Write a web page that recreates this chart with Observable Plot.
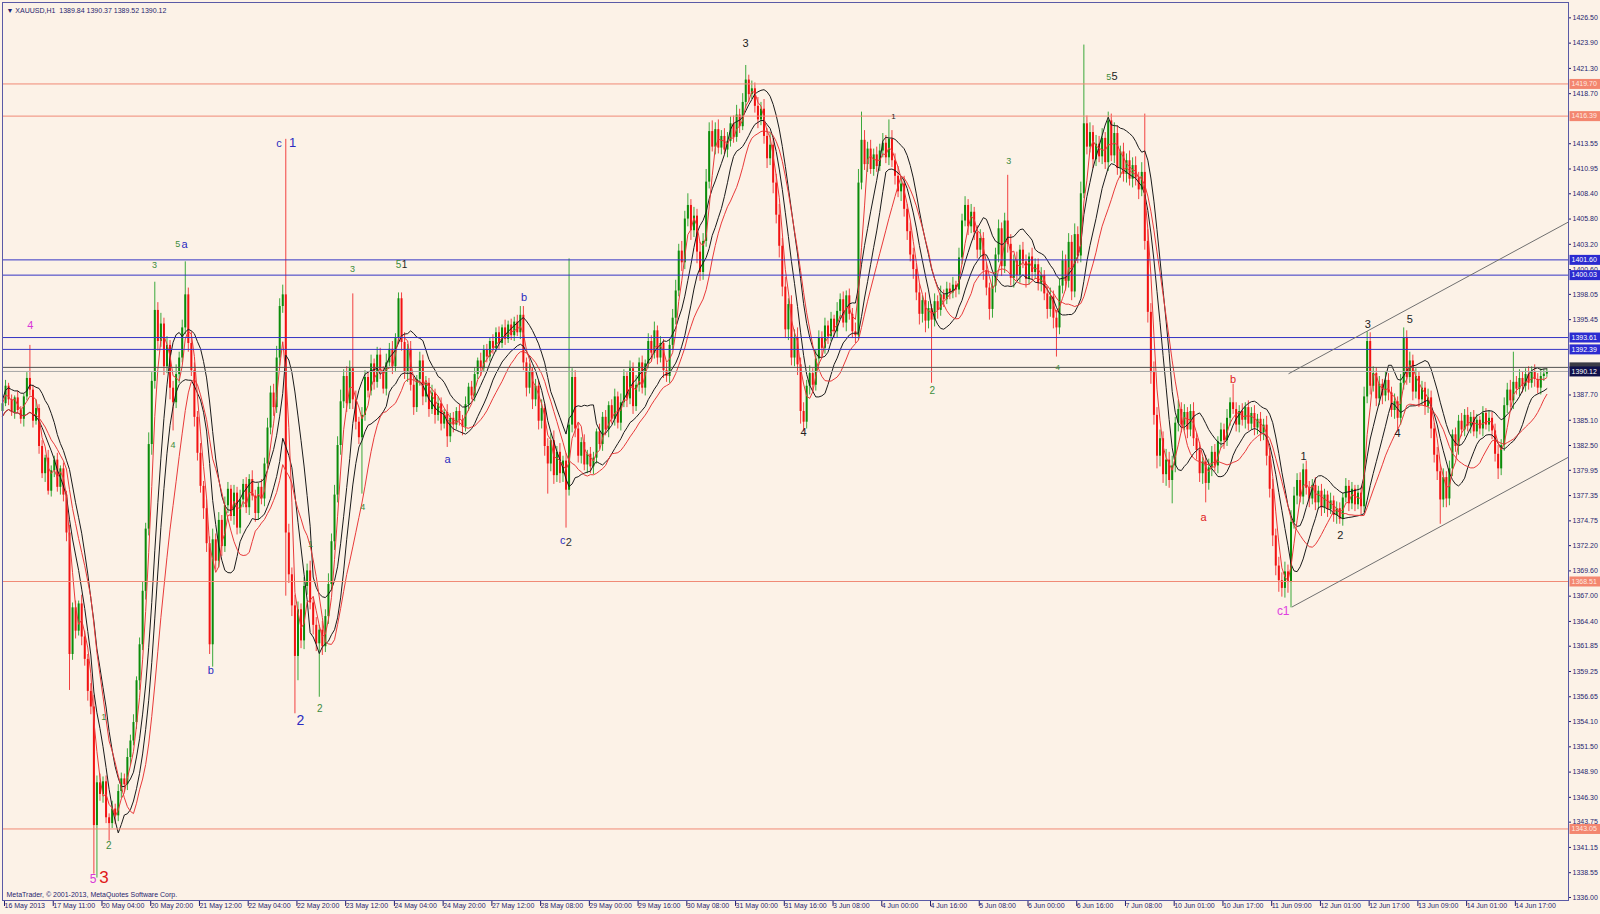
<!DOCTYPE html>
<html><head><meta charset="utf-8">
<script src="https://cdn.jsdelivr.net/npm/d3@7"></script>
<script src="https://cdn.jsdelivr.net/npm/@observablehq/plot@0.6"></script>
<style>
html,body{margin:0;padding:0;background:#fcf2e7;}
#chart svg{display:block;}
</style></head><body><div id="chart"></div>
<script>
// ---- DATA ----
const firstOpen = 1386.0;
const closes = [
1386.8,1388.6,1387.2,1385.9,1387.4,1386.1,1385.2,1387.5,1389.4,1388.2,
1385.0,1386.3,1382.4,1379.6,1381.2,1377.8,1379.9,1381.0,1378.2,1380.1,
1377.4,1373.5,1361.0,1365.8,1363.4,1366.2,1362.8,1360.5,1357.2,1355.6,
1343.4,1347.8,1346.6,1347.9,1344.2,1343.6,1345.1,1344.4,1346.9,1348.2,
1347.6,1350.4,1352.1,1354.0,1358.3,1362.0,1367.5,1373.9,1382.6,1389.1,
1396.4,1393.2,1395.0,1390.6,1392.8,1388.4,1386.9,1389.8,1391.5,1394.6,
1398.0,1393.0,1390.2,1385.4,1381.7,1378.3,1376.0,1372.4,1362.0,1372.8,
1370.6,1374.8,1372.1,1376.3,1378.0,1375.2,1377.6,1374.0,1376.9,1378.5,
1376.1,1379.0,1377.3,1375.5,1378.2,1377.0,1380.6,1384.3,1387.9,1386.4,
1391.5,1396.8,1398.0,1373.5,1369.2,1366.0,1360.8,1365.6,1362.4,1368.0,
1369.6,1366.3,1364.0,1362.1,1363.5,1361.8,1364.9,1368.2,1372.6,1377.4,
1382.5,1387.0,1389.6,1386.8,1390.4,1387.2,1384.9,1383.3,1385.6,1389.5,
1388.1,1390.9,1389.0,1391.8,1390.2,1388.3,1391.0,1392.4,1390.6,1393.5,
1397.6,1393.1,1390.0,1392.4,1388.7,1386.4,1389.3,1391.2,1387.5,1388.9,
1386.2,1387.9,1385.6,1386.8,1384.7,1385.9,1383.4,1385.3,1384.6,1386.0,
1385.1,1384.4,1386.7,1388.5,1387.6,1389.8,1391.2,1390.4,1392.3,1391.6,
1393.2,1392.5,1394.1,1393.0,1394.6,1393.4,1394.9,1393.8,1395.2,1394.1,
1395.9,1391.0,1388.4,1390.1,1387.2,1388.6,1385.0,1386.3,1382.4,1380.6,
1383.0,1379.4,1381.8,1379.6,1380.9,1377.9,1384.6,1389.5,1384.2,1381.4,
1382.8,1380.5,1381.6,1380.3,1381.2,1383.9,1382.6,1385.4,1384.1,1386.6,
1385.2,1387.5,1384.8,1386.9,1389.6,1387.3,1390.4,1386.5,1388.7,1391.0,
1388.4,1390.9,1393.2,1392.0,1394.3,1391.5,1393.0,1390.2,1389.6,1392.8,
1395.6,1398.4,1402.5,1401.3,1405.8,1407.2,1404.6,1406.1,1402.4,1400.3,
1403.5,1409.6,1414.8,1413.2,1415.0,1413.1,1414.3,1412.9,1413.8,1415.6,
1414.2,1416.5,1415.3,1417.8,1420.1,1418.6,1419.2,1417.4,1416.0,1417.1,
1414.3,1412.0,1413.4,1409.5,1406.2,1403.0,1398.8,1394.4,1397.0,1391.5,
1393.6,1390.8,1386.0,1384.9,1388.6,1389.9,1388.7,1391.4,1393.6,1392.5,
1394.8,1393.7,1395.5,1394.2,1396.3,1397.5,1395.1,1397.9,1396.0,1394.2,
1393.8,1409.5,1413.9,1411.4,1413.0,1410.9,1412.4,1411.2,1412.8,1413.6,
1412.1,1414.0,1411.8,1410.2,1408.6,1409.4,1406.8,1404.5,1402.1,1400.6,
1398.2,1396.0,1397.4,1395.3,1396.6,1395.4,1397.3,1396.4,1398.0,1397.5,
1398.6,1398.2,1399.0,1398.5,1401.8,1405.6,1407.2,1405.0,1406.5,1404.4,
1402.6,1403.8,1400.5,1398.7,1396.5,1398.9,1402.1,1404.8,1400.9,1405.6,
1403.2,1399.7,1401.5,1400.0,1402.6,1401.4,1399.6,1401.9,1400.3,1401.1,
1399.2,1400.0,1398.1,1396.5,1397.8,1395.6,1394.6,1398.9,1401.5,1399.4,
1403.4,1398.3,1404.2,1402.0,1408.4,1415.6,1413.2,1414.7,1411.9,1413.5,
1412.2,1414.1,1411.6,1415.9,1412.3,1414.6,1411.0,1412.7,1410.4,1411.8,
1409.9,1411.3,1410.0,1408.8,1410.6,1403.5,1396.2,1390.0,1385.6,1381.4,
1383.2,1379.5,1381.0,1378.9,1380.4,1384.8,1386.2,1384.6,1385.9,1384.1,
1386.0,1383.2,1382.0,1379.6,1380.8,1378.6,1380.2,1381.8,1380.4,1382.9,
1384.1,1383.0,1385.3,1386.9,1386.2,1384.6,1386.0,1385.1,1386.4,1384.7,
1385.8,1384.3,1385.2,1383.8,1384.6,1381.4,1378.0,1373.2,1370.1,1368.6,
1367.8,1369.5,1368.4,1374.6,1377.3,1378.9,1377.2,1380.0,1378.1,1377.0,
1378.4,1376.6,1377.8,1376.1,1377.4,1375.9,1376.8,1375.3,1376.0,1374.9,
1377.1,1378.3,1376.5,1378.0,1376.4,1377.6,1376.2,1387.5,1393.2,1388.6,
1389.9,1387.3,1388.8,1387.6,1389.2,1387.9,1386.1,1387.0,1385.3,1388.9,
1393.6,1389.5,1391.2,1388.0,1389.6,1387.2,1388.4,1386.5,1387.4,1384.2,
1381.5,1379.8,1376.9,1379.2,1377.0,1380.1,1383.6,1382.4,1385.0,1384.1,
1385.6,1384.5,1385.4,1383.9,1385.1,1384.2,1385.8,1384.6,1385.3,1384.0,
1381.6,1380.1,1382.5,1386.6,1388.2,1387.1,1389.0,1388.3,1389.4,1388.6,
1389.8,1388.9,1390.1,1389.3,1388.4,1389.6,1389.84,1390.12
];
// upper / lower wick length per bar, in tenths of a dollar
const upW = [
4,6,3,5,2,7,4,3,6,8,5,9,4,6,3,8,5,4,7,3,
6,4,8,5,7,3,9,6,5,8,12,7,9,5,6,4,8,5,7,6,
5,9,6,8,4,7,10,6,12,9,15,8,11,6,9,5,7,10,6,8,
9,7,12,8,6,10,5,9,7,11,6,8,5,9,7,4,8,6,10,5,
7,5,9,6,4,8,6,10,7,9,12,8,10,5,9,7,11,8,6,9,
7,10,6,8,5,9,7,11,8,10,9,12,7,10,8,6,9,5,8,7,
6,9,5,8,7,4,9,6,8,5,7,6,10,5,8,7,4,9,6,7,
5,8,4,7,6,3,8,5,6,4,7,5,8,4,6,7,3,8,5,6,
4,7,5,6,3,8,4,6,5,7,6,9,5,8,4,7,6,9,5,8,
7,10,6,9,5,8,4,9,7,6,5,8,4,7,6,3,8,5,7,4,
6,8,5,9,7,4,8,6,10,5,7,4,8,6,9,5,7,4,8,6,
9,11,7,10,8,12,6,9,7,10,8,13,9,11,7,10,6,8,9,7,
8,10,6,9,7,5,8,6,9,7,10,8,12,7,9,11,8,10,6,9,
8,10,7,9,6,8,5,9,7,6,8,5,7,4,9,6,8,5,7,6,
9,14,8,10,7,9,6,8,7,10,8,6,9,7,10,6,8,5,9,7,
6,9,5,8,7,4,8,6,9,5,7,6,8,4,10,7,9,6,8,5,
7,9,6,8,5,10,7,9,6,8,7,10,6,9,5,8,7,4,9,6,
6,8,5,7,9,6,8,7,10,6,9,7,11,8,12,9,8,10,7,9,
8,10,6,9,7,11,8,6,9,7,10,8,9,6,10,8,12,9,11,8,
9,7,11,8,10,6,9,7,8,5,7,9,6,8,5,7,9,6,8,5,
7,6,9,5,8,7,6,8,5,7,6,8,5,7,6,9,8,10,7,9,
8,10,7,12,9,7,8,6,9,7,6,8,5,7,6,4,8,5,7,6,
5,8,6,7,4,8,6,10,8,9,7,6,8,5,9,7,6,8,5,9,
8,7,9,6,8,5,7,6,9,7,6,8,7,9,6,8,5,7,6,8,
6,8,5,7,6,4,7,5,8,6,7,9,6,8,7,10,8,6,9,7,
6,8,5,7,6,8,5,3
];
const dnW = [
5,3,6,4,7,3,5,8,4,6,7,4,8,5,9,4,6,7,5,8,
7,9,10,6,8,5,9,7,10,8,14,12,7,9,6,8,5,9,6,7,
8,6,9,5,7,10,6,9,7,11,8,10,6,9,7,12,8,6,9,5,
7,9,6,10,8,7,11,9,10,12,9,7,10,6,8,5,9,7,6,8,
6,8,5,9,7,6,8,5,7,9,6,8,7,10,9,11,12,10,8,9,
9,7,10,8,12,9,6,8,7,9,8,10,7,9,6,10,8,7,12,6,
7,5,8,6,9,5,7,4,8,6,5,9,7,10,6,8,5,7,9,6,
8,5,9,6,7,5,10,6,8,5,6,9,5,7,4,6,5,8,4,6,
5,6,4,7,5,6,4,5,6,4,7,8,9,6,10,7,9,8,10,9,
8,9,7,10,9,12,6,8,9,7,8,6,9,7,8,6,5,7,6,8,
5,7,6,8,5,9,6,8,5,7,6,8,5,9,6,7,5,8,6,7,
5,7,6,9,7,8,10,7,12,9,8,6,7,5,8,6,7,5,8,6,
6,5,7,4,6,8,5,7,9,6,8,10,7,11,9,12,10,9,11,8,
9,11,8,10,7,9,8,6,7,9,6,8,5,7,6,8,5,9,6,7,
8,5,7,6,8,5,7,6,5,7,6,8,7,9,6,10,8,9,7,10,
8,11,9,12,8,10,7,9,6,8,5,7,6,8,5,7,6,9,7,8,
9,7,10,8,11,9,7,8,10,7,9,8,10,6,8,7,9,6,8,7,
8,9,7,10,8,11,9,7,8,10,7,9,6,8,7,5,8,6,9,7,
6,8,7,9,6,8,7,10,8,9,7,9,8,10,7,9,11,12,10,13,
11,9,12,8,10,7,9,8,6,9,7,8,10,9,11,8,7,9,6,8,
7,9,6,8,5,7,8,6,9,7,6,8,7,9,8,10,9,11,10,12,
9,10,11,8,7,9,6,8,7,9,6,8,7,9,6,8,5,7,9,6,
7,5,8,6,7,5,8,6,7,9,6,8,7,9,6,8,7,9,6,7,
7,8,6,9,7,8,6,9,7,10,8,9,11,8,9,7,8,6,9,7,
7,6,8,5,7,6,8,5,7,9,8,10,7,6,8,7,9,6,8,7,
6,7,5,8,6,7,5,3
];
// [bar, high, low] for the long visible wicks
const extremes = [
[9,1392.8,null],[22,null,1357.3],[30,null,1338.4],[31,null,1338.0],[35,null,1341.8],
[50,1399.3,null],[56,null,1384.0],[60,1401.4,null],[68,null,1361.0],[69,null,1359.7],
[93,1414.0,1367.0],[96,null,1354.9],[97,null,1358.3],[104,null,1356.6],[115,1398.1,null],
[118,null,1377.5],[130,1398.2,null],[146,null,1382.3],[170,1396.8,null],[179,null,1377.5],
[185,null,1374.0],[186,1401.7,null],[244,1421.6,null],[262,null,1384.7],[282,1416.8,null],
[291,1416.0,null],[305,null,1388.9],[330,1410.3,null],[346,null,1391.6],[355,1423.7,null],
[375,1416.6,null],[384,null,1376.5],[395,null,1376.6],[404,1388.8,null],[420,null,1366.9],
[423,null,1365.8],[439,null,1374.4],[448,1394.2,null],[458,null,1384.0],[460,1394.6,null],
[472,null,1374.4],[491,null,1379.0],[496,1392.1,null],[507,1390.37,1389.52]
];
const dateLabels = ["16 May 2013","17 May 11:00","20 May 04:00","20 May 20:00","21 May 12:00","22 May 04:00","22 May 20:00","23 May 12:00","24 May 04:00","24 May 20:00","27 May 12:00","28 May 08:00","29 May 00:00","29 May 16:00","30 May 08:00","31 May 00:00","31 May 16:00","3 Jun 08:00","4 Jun 00:00","4 Jun 16:00","5 Jun 08:00","6 Jun 00:00","6 Jun 16:00","7 Jun 08:00","10 Jun 01:00","10 Jun 17:00","11 Jun 09:00","12 Jun 01:00","12 Jun 17:00","13 Jun 09:00","14 Jun 01:00","14 Jun 17:00"];
const barsPerLabel = 16;
// price-scale labels (those fully covered by level boxes are left out)
const priceTicks = [1426.50,1423.90,1421.30,1418.70,1413.55,1410.95,1408.40,1405.80,1403.20,1400.60,1398.05,1395.45,1387.70,1385.10,1382.50,1379.95,1377.35,1374.75,1372.20,1369.60,1367.00,1364.40,1361.85,1359.25,1356.65,1354.10,1351.50,1348.90,1346.30,1343.75,1341.15,1338.55,1336.00];
const salmonLevels = [1419.70,1416.39,1368.51,1343.05];
const blueLevels = [1401.60,1400.03,1393.61,1392.39];
const grayLevel = 1390.54;
const bidLevel = 1390.12;
const trendUpper = [[422.3,1389.9],[514.1,1405.5]];
const trendLower = [[423.4,1365.9],[514.1,1381.3]];
const waveLabels = [
{t:"4",b:9.1,p:1394.9,c:"#d838d8",s:11},
{t:"3",b:49.9,p:1401.1,c:"#3c8c3c",s:9},
{t:"5",b:57.5,p:1403.2,c:"#3c8c3c",s:9},
{t:"a",b:59.8,p:1403.2,c:"#2a2ac0",s:11},
{t:"c",b:90.8,p:1413.6,c:"#2a2ac0",s:11},
{t:"1",b:95.2,p:1413.6,c:"#2a2ac0",s:13},
{t:"3",b:114.9,p:1400.6,c:"#3c8c3c",s:9},
{t:"5",b:130.0,p:1401.1,c:"#3c8c3c",s:10},
{t:"1",b:132.0,p:1401.1,c:"#222",s:10},
{t:"b",b:171.2,p:1397.7,c:"#2a2ac0",s:11},
{t:"4",b:56.0,p:1382.5,c:"#3c8c3c",s:9},
{t:"4",b:118.3,p:1376.2,c:"#3c8c3c",s:9},
{t:"a",b:146.1,p:1381.1,c:"#2a2ac0",s:11},
{t:"b",b:68.4,p:1359.4,c:"#2a2ac0",s:11},
{t:"2",b:97.8,p:1354.2,c:"#2a2ac0",s:14},
{t:"2",b:104.2,p:1355.4,c:"#3c8c3c",s:10},
{t:"1",b:33.2,p:1354.6,c:"#3c8c3c",s:9},
{t:"1",b:101.1,p:1372.4,c:"#3c8c3c",s:9},
{t:"2",b:34.9,p:1341.3,c:"#3c8c3c",s:10},
{t:"5",b:29.7,p:1337.9,c:"#d838d8",s:12},
{t:"3",b:33.3,p:1338.1,c:"#e01818",s:17},
{t:"c",b:183.9,p:1372.7,c:"#2a2ac0",s:11},
{t:"2",b:185.9,p:1372.5,c:"#333",s:11},
{t:"3",b:243.9,p:1423.9,c:"#222",s:11},
{t:"1",b:292.5,p:1416.4,c:"#222",s:8},
{t:"4",b:263.0,p:1383.8,c:"#222",s:11},
{t:"3",b:330.3,p:1411.8,c:"#3c8c3c",s:9},
{t:"2",b:305.2,p:1388.1,c:"#3c8c3c",s:10},
{t:"5",b:363.2,p:1420.4,c:"#3c8c3c",s:9},
{t:"5",b:365.1,p:1420.5,c:"#222",s:11},
{t:"4",b:346.4,p:1390.5,c:"#3c8c3c",s:8},
{t:"b",b:404.0,p:1389.3,c:"#e02020",s:11},
{t:"a",b:394.3,p:1375.1,c:"#e02020",s:11},
{t:"c",b:419.4,p:1365.5,c:"#e040e0",s:12},
{t:"1",b:421.4,p:1365.5,c:"#e040e0",s:12},
{t:"1",b:427.1,p:1381.4,c:"#222",s:11},
{t:"2",b:439.2,p:1373.2,c:"#222",s:11},
{t:"3",b:448.2,p:1395.0,c:"#222",s:11},
{t:"5",b:462.0,p:1395.5,c:"#222",s:11},
{t:"4",b:458.0,p:1383.7,c:"#222",s:11}
];
const titleText = "\u25BC XAUUSD,H1  1389.84 1390.37 1389.52 1390.12";
const captionText = "MetaTrader, \u00A9 2001-2013, MetaQuotes Software Corp.";

// ---- BUILD TABLE ----
const ext = new Map(extremes.map(e => [e[0], e]));
const bars = closes.map((c, i) => {
  const o = i === 0 ? firstOpen : closes[i - 1];
  const e = ext.get(i);
  const hi = (e && e[1] != null) ? e[1] : Math.max(o, c) + (upW[i] ?? 4) / 10;
  const lo = (e && e[2] != null) ? e[2] : Math.min(o, c) - (dnW[i] ?? 4) / 10;
  return {i, open: o, close: c, high: hi, low: lo, up: c >= o};
});
const boxes = [
  ...salmonLevels.map(v => ({v, bg: "#f3866f", fg: "#ffe9e0"})),
  ...blueLevels.map(v => ({v, bg: "#2b2bd0", fg: "#ffffff"})),
  {v: bidLevel, bg: "#10104a", fg: "#ffffff"}
];
const boxSymbol = {draw(ctx) { ctx.rect(1, -5, 31, 10); }};
const grayBoxSymbol = {draw(ctx) { ctx.rect(1, -5, 31, 6); }};
const BG = "#fcf2e7", AX = "#1e1e6e";
const GREEN_B = "#0a8c0a", GREEN_W = "#3aa83a", RED_B = "#f21212", RED_W = "#f24040";
const FONT = "'Liberation Sans', Arial, sans-serif";

const chart = Plot.plot({
  width: 1600, height: 914,
  marginLeft: 2, marginRight: 32, marginTop: 2, marginBottom: 14,
  x: {domain: [0, 514.1], axis: null},
  y: {domain: [1335.69, 1428.08], axis: null},
  style: {background: BG, fontFamily: FONT, color: AX, overflow: "visible"},
  marks: [
    // candles
    Plot.ruleX(bars, {x: "i", y1: "low", y2: "high", stroke: d => d.up ? GREEN_W : RED_W, strokeWidth: 1}),
    Plot.ruleX(bars, {x: "i", y1: "open", y2: "close", stroke: d => d.up ? GREEN_B : RED_B, strokeWidth: 2}),
    // moving averages
    Plot.lineY(bars, Plot.windowY({k: 9, anchor: "end", reduce: "mean"}, {x: "i", y: "high", stroke: "#1a1a1a", strokeWidth: 1})),
    Plot.lineY(bars, Plot.windowY({k: 9, anchor: "end", reduce: "mean"}, {x: "i", y: "low", stroke: "#1a1a1a", strokeWidth: 1})),
    Plot.lineY(bars, Plot.windowY({k: 4, anchor: "end", reduce: "mean"}, {x: "i", y: "close", stroke: "#e83a3a", strokeWidth: 1})),
    Plot.lineY(bars, Plot.windowY({k: 14, anchor: "end", reduce: "mean"}, {x: "i", y: "low", stroke: "#e83a3a", strokeWidth: 1})),
    // horizontal levels
    Plot.ruleY(salmonLevels, {stroke: "#f08a76", strokeWidth: 1}),
    Plot.ruleY(blueLevels, {stroke: "#3434c4", strokeWidth: 1}),
    Plot.ruleY([grayLevel], {stroke: "#505050", strokeWidth: 1}),
    Plot.ruleY([bidLevel], {stroke: "#a8a8a8", strokeWidth: 1}),
    // trend channel
    Plot.line(trendUpper, {x: d => d[0], y: d => d[1], stroke: "#707070", strokeWidth: 1}),
    Plot.line(trendLower, {x: d => d[0], y: d => d[1], stroke: "#707070", strokeWidth: 1}),
    // wave labels
    Plot.text(waveLabels, {x: "b", y: "p", text: "t", fill: "c", fontSize: "s"}),
    // axes
    Plot.axisY({anchor: "right", ticks: priceTicks, tickFormat: d => d.toFixed(2), tickSize: 2, tickPadding: 2, fontSize: 7, fill: AX, stroke: AX}),
    Plot.axisX({anchor: "bottom", ticks: dateLabels.map((_, k) => k * barsPerLabel), tickFormat: d => dateLabels[Math.round(d / barsPerLabel)], tickSize: 6, tickPadding: -3, textAnchor: "start", dx: 2, fontSize: 7, fill: AX, stroke: AX}),
    Plot.frame({stroke: "#5a5aa6"}),
    // right-axis level boxes (the gray one peeks out above the bid box)
    Plot.dot([grayLevel], {y: d => d, frameAnchor: "right", symbol: grayBoxSymbol, r: 3, fill: "#3c3c46", stroke: null}),
    Plot.dot(boxes, {y: "v", frameAnchor: "right", symbol: boxSymbol, r: 3, fill: "bg", stroke: null}),
    Plot.text(boxes, {y: "v", frameAnchor: "right", text: d => d.v.toFixed(2), fill: "fg", dx: 3, textAnchor: "start", fontSize: 7}),
    // title and caption
    Plot.text([titleText], {frameAnchor: "top-left", dx: 4, dy: 6, fontSize: 7, fill: AX, textAnchor: "start"}),
    Plot.text([captionText], {frameAnchor: "bottom-left", dx: 4, dy: -4, fontSize: 7, fill: AX, textAnchor: "start"})
  ]
});
document.getElementById("chart").appendChild(chart);
</script>
</body></html>
